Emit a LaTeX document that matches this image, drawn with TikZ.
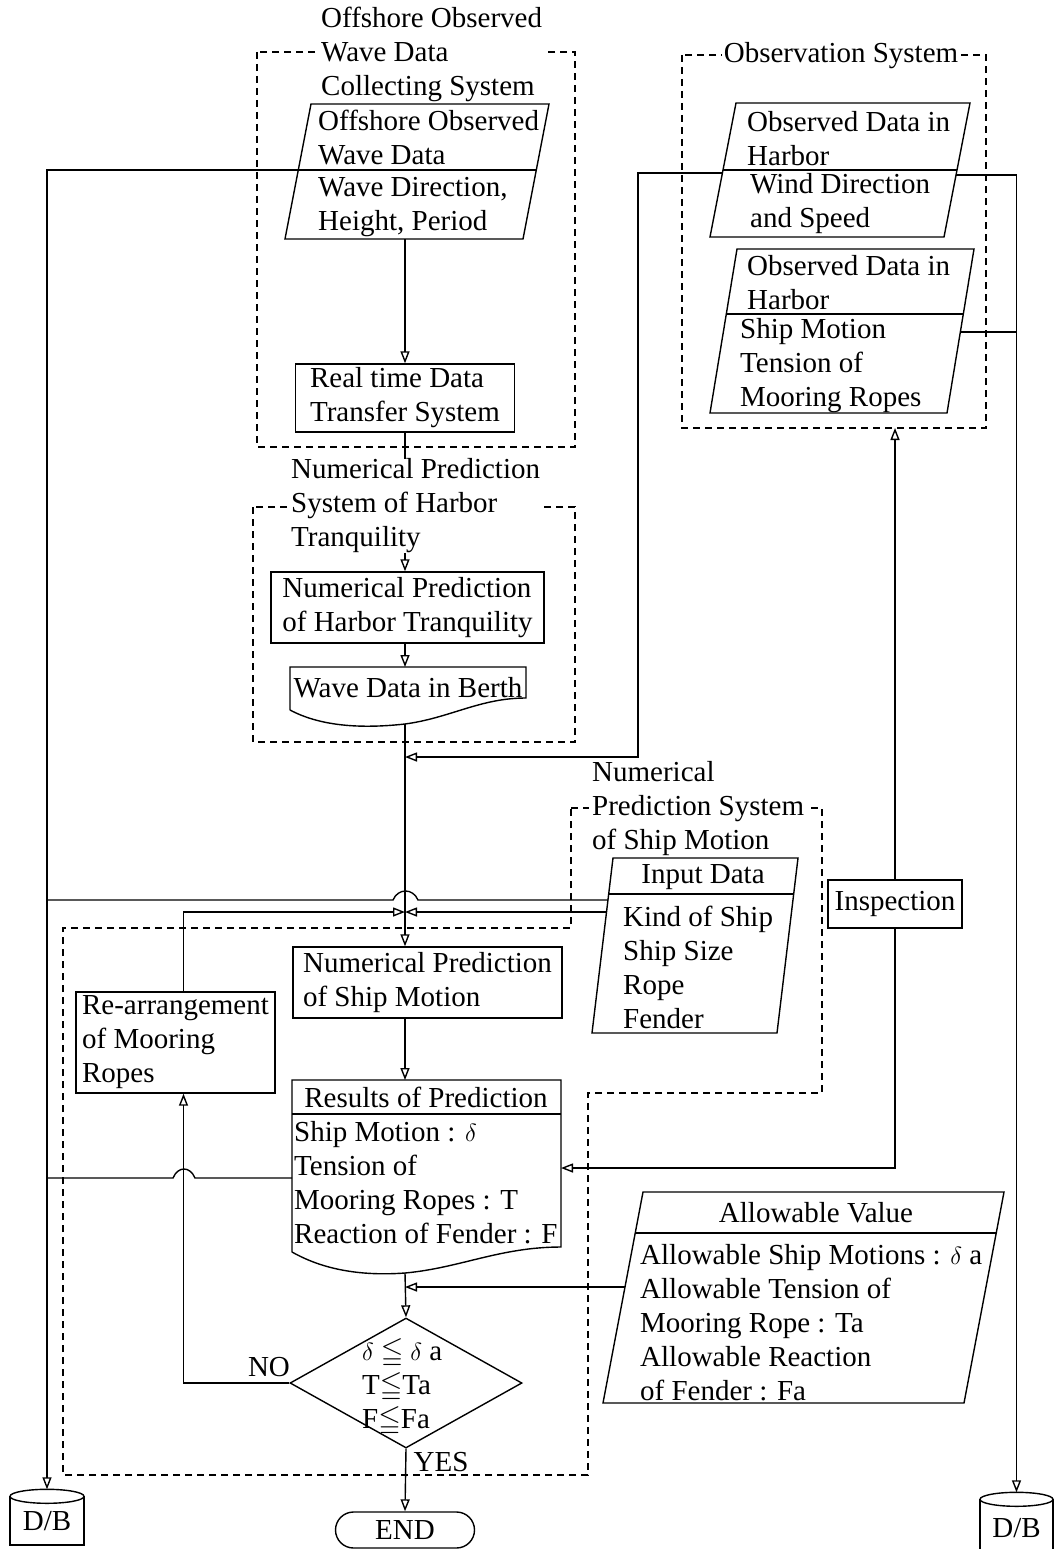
\documentclass[tikz,border=0pt]{standalone}
\usepackage{amssymb}
\usepackage{fontspec}
\setmainfont{Liberation Serif}
\usetikzlibrary{arrows.meta,shapes.geometric,calc}

\tikzset{
  every node/.style={font=\fontsize{29}{34}\selectfont, inner sep=0pt, align=left},
  wire/.style={line width=1.4pt},
  flow/.style={line width=1.4pt, -{Triangle[open,length=12pt,width=9pt]}},
  grp/.style={line width=1.2pt, dash pattern=on 7pt off 5pt},
  grptitle/.style={fill=white, inner xsep=3pt, anchor=west},
  blk/.style={draw, line width=1.4pt},
}

\begin{document}
\begin{tikzpicture}[x=1pt,y=-1pt]
\useasboundingbox (0,0) rectangle (1061,1549);

\draw[grp] (257,52) rectangle (575,447);
\draw[grp] (253,507) rectangle (575,742);
\draw[grp] (682,55) rectangle (986,428);
\draw[grp] (571,808) -- (822,808) -- (822,1093) -- (588,1093) -- (588,1475) -- (63,1475) -- (63,928) -- (571,928) -- cycle;

\draw[wire] (285,239) -- (311,104) -- (549,104) -- (523,239) -- cycle;
\draw[wire] (298,170) -- (536,170);
\node[anchor=west] (od1) at (318,138) {Offshore Observed\\Wave Data};
\node[anchor=west] (od2) at (318,207) {Wave Direction,\\Height, Period};
\coordinate (od-w) at (298,170);
\coordinate (od-s) at (405,239);

\node[blk, minimum width=219pt, minimum height=68pt] (rt) at (405,398) {Real time Data\\Transfer System};
\node[blk, minimum width=273pt, minimum height=71pt] (nph) at (407.5,607.5) {Numerical Prediction\\of Harbor Tranquility};

\draw[wire] (290,710) -- (290,667) -- (526,667) -- (526,698) .. controls (480,698) and (450,718) .. (405,724) .. controls (360,729) and (320,726) .. (290,710);
\node (wdb) at (408,688) {Wave Data in Berth};
\coordinate (wdb-n) at (405,667);
\coordinate (wdb-s) at (405,724);

\draw[wire] (710,237) -- (736,103) -- (970,103) -- (944,237) -- cycle;
\draw[wire] (723,170) -- (957,170);
\node[anchor=west] (ob1a) at (747,139) {Observed Data in\\Harbor};
\node[anchor=west] (ob1b) at (750,204) {Wind Direction\\and Speed};
\coordinate (ob1-w) at (722,173);
\coordinate (ob1-e) at (956,175);

\draw[wire] (710,413) -- (737,249) -- (974,249) -- (947,413) -- cycle;
\draw[wire] (726,314) -- (963,314);
\node[anchor=west] (ob2a) at (747,283) {Observed Data in\\Harbor};
\node[anchor=west] (ob2b) at (740,366) {Ship Motion\\Tension of\\Mooring Ropes};
\coordinate (ob2-e) at (960,332);
\coordinate (obs-s) at (895,428);

\draw[wire] (592,1033) -- (613,858) -- (798,858) -- (777,1033) -- cycle;
\draw[wire] (609,894) -- (794,894);
\node (in1) at (703,877) {Input Data};
\node[anchor=west] (in2) at (623,967) {Kind of Ship\\Ship Size\\Rope\\Fender};
\coordinate (in-w1) at (608,900);
\coordinate (in-w2) at (606,912);

\node[blk, minimum width=134pt, minimum height=48pt] (insp) at (895,904) {Inspection};
\node[blk, minimum width=269pt, minimum height=71pt] (nps) at (427.5,982.5) {Numerical Prediction\\of Ship Motion};
\node[blk, minimum width=199pt, minimum height=101pt] (rea) at (175.5,1042.5) {Re-arrangement\\of Mooring\\Ropes};

\draw[wire] (292,1252) -- (292,1080) -- (561,1080) -- (561,1247) .. controls (500,1247) and (460,1268) .. (405,1273) .. controls (350,1277) and (315,1265) .. (292,1252);
\draw[wire] (292,1114) -- (561,1114);
\node (res1) at (426,1097) {Results of Prediction};
\node[anchor=west] (res2) at (294,1183) {Ship Motion : $\delta$\\Tension of\\Mooring Ropes : T\\Reaction of Fender : F};
\coordinate (res-n) at (405,1080);
\coordinate (res-s) at (405,1273);
\coordinate (res-w) at (292,1178);
\coordinate (res-e) at (561,1168);

\draw[wire] (603,1403) -- (643,1192) -- (1004,1192) -- (964,1403) -- cycle;
\draw[wire] (635,1233) -- (996,1233);
\node (al1) at (816,1213) {Allowable Value};
\node[anchor=west] (al2) at (640,1323) {Allowable Ship Motions : $\delta$ a\\Allowable Tension of\\Mooring Rope : Ta\\Allowable Reaction\\of Fender : Fa};
\coordinate (al-w) at (625,1287);

\node[blk, diamond, minimum width=232pt, minimum height=130pt] (chk) at (406,1383) {};
\node[anchor=west] (chkT) at (362,1387) {$\delta \leqq \delta$ a\\T$\leqq$Ta\\F$\leqq$Fa};
\node (no) at (269,1367) {NO};
\node (yes) at (441,1462) {YES};
\node[blk, rounded corners=18pt, minimum width=139pt, minimum height=36pt] (end) at (405,1530) {END};

\node[blk, minimum width=74pt, minimum height=48pt] (dbl) at (47,1521) {D/B};
\draw[wire, fill=white] (dbl.north) ellipse [x radius=37pt, y radius=7pt];
\node[blk, minimum width=73pt, minimum height=56pt] (dbr) at (1016.5,1528) {D/B};
\draw[wire, fill=white] (dbr.north) ellipse [x radius=36.5pt, y radius=7pt];
\coordinate (dbl-t) at ($(dbl.north)+(0,-7)$);
\coordinate (dbr-t) at ($(dbr.north)+(0,-7)$);

\coordinate (j1) at (405,757);
\coordinate (j2) at (405,912);
\coordinate (j3) at (405,1287);

\draw[flow] (od-w) -| (dbl-t);
\draw[flow] (od-s) -- (rt.north);
\draw[flow] (rt.south) -- (rt.south |- nph.north);
\draw[flow] (wdb-n |- nph.south) -- (wdb-n);
\draw[flow] (wdb-s) -- (wdb-s |- nps.north);
\draw[flow] (ob1-w) -- ++(-84,0) |- (j1);
\draw[flow] (ob1-e) -| (dbr-t);
\draw[wire] (ob2-e) -- (ob2-e -| dbr-t);
\draw[wire] (in-w1) -- (418,900) .. controls (413,888) and (398,888) .. (393,900) -- (in-w1 -| dbl-t);
\draw[flow] (in-w2) -- (j2);
\draw[flow] ($(rea.north)+(8,0)$) |- (j2);
\draw[flow] (res-n |- nps.south) -- (res-n);
\draw[flow] (insp.north) -- (obs-s);
\draw[flow] (insp.south) |- (res-e);
\draw[wire] (res-w) -- (195,1178) .. controls (190,1166) and (178,1166) .. (173,1178) -- (res-w -| dbl-t);
\draw[flow] (res-s) -- (chk.north);
\draw[flow] (al-w) -- (j3);
\draw[flow] (chk.west) -| ($(rea.south)+(8,0)$);
\draw[flow] (chk.south) -- (end.north);

\node[grptitle] (t1) at (318,54) {Offshore Observed\\Wave Data\\Collecting System};
\node[grptitle] (t2) at (288,506) {Numerical Prediction\\System of Harbor\\Tranquility};
\node[grptitle] (t3) at (589,809) {Numerical\\Prediction System\\of Ship Motion};
\node[fill=white, inner xsep=2pt] (t4) at (841,56) {Observation System};

\end{tikzpicture}
\end{document}
